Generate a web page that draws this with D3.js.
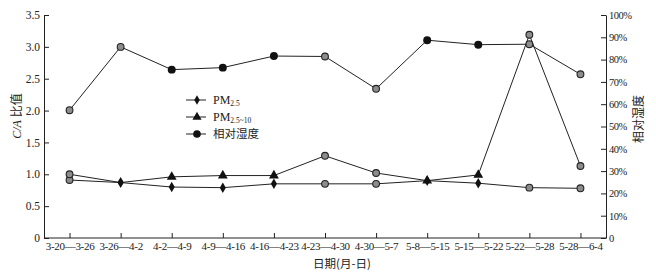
<!DOCTYPE html>
<html>
<head>
<meta charset="utf-8">
<script src="https://cdn.jsdelivr.net/npm/d3@7"></script>
<style>
  body { margin: 0; background: #fff; }
  svg text { font-family: "Liberation Serif", "Noto Sans CJK SC", serif; font-size: 12px; fill: #222; }
  .cjk { font-family: "Noto Sans CJK SC", sans-serif; }
</style>
</head>
<body>
<div id="chart"></div>
<script>
// Weekly periods (month-day)
const periods = ["3-20—3-26", "3-26—4-2", "4-2—4-9", "4-9—4-16", "4-16—4-23", "4-23—4-30",
                 "4-30—5-7", "5-8—5-15", "5-15—5-22", "5-22—5-28", "5-28—6-4"];

// C/A ratio values
const pm25 = [0.91, 0.87, 0.80, 0.79, 0.85, 0.85, 0.85, 0.90, 0.86, 0.79, 0.78];
const pm2510 = [1.00, 0.87, 0.96, 0.98, 0.98, 1.29, 1.02, 0.90, 0.99, 3.19, 1.13];

// Relative humidity (%)
const humidity = [57.3, 85.7, 75.5, 76.4, 81.6, 81.4, 66.9, 88.7, 86.7, 86.9, 73.4];

const leftTicks = [0, 0.5, 1.0, 1.5, 2.0, 2.5, 3.0, 3.5];
const rightTicks = [0, 10, 20, 30, 40, 50, 60, 70, 80, 90, 100];

// points that show up as grey circles in the scan
const greyPm = [0, 5, 6, 9, 10];
const greyHum = [0, 1, 5, 6, 9, 10];

function drawChart() {
    const W = 656, H = 277;
    const margin = { top: 15, right: 50, bottom: 39, left: 44 };

    const svg = d3.select("#chart").append("svg")
        .attr("width", W)
        .attr("height", H);

    const x = d3.scalePoint()
        .domain(periods)
        .range([margin.left, W - margin.right])
        .padding(0.5);

    const yL = d3.scaleLinear().domain([0, 3.5]).range([H - margin.bottom, margin.top]);
    const yR = d3.scaleLinear().domain([0, 100]).range([H - margin.bottom, margin.top]);

    // Axes
    const xAxis = svg.append("g")
        .attr("transform", `translate(0,${H - margin.bottom})`)
        .call(d3.axisBottom(x).tickSizeInner(-5).tickSizeOuter(0).tickPadding(4));

    const leftAxis = svg.append("g")
        .attr("transform", `translate(${margin.left},0)`)
        .call(d3.axisLeft(yL).tickValues(leftTicks)
            .tickFormat(d => d === 0 ? "0" : d3.format(".1f")(d))
            .tickSizeInner(-5).tickSizeOuter(0).tickPadding(4));

    const rightAxis = svg.append("g")
        .attr("transform", `translate(${W - margin.right},0)`)
        .call(d3.axisRight(yR).tickValues(rightTicks)
            .tickFormat(d => d === 0 ? "0" : d + "%")
            .tickSizeInner(-5).tickSizeOuter(0).tickPadding(3));

    [xAxis, leftAxis, rightAxis].forEach(g => {
        g.selectAll("path, line").attr("stroke", "#222");
        g.selectAll("text").attr("fill", "#222")
            .style("font-family", "'Liberation Serif', serif");
    });
    xAxis.selectAll("text").style("font-size", "11px").style("letter-spacing", "-0.3px");
    leftAxis.selectAll("text").style("font-size", "11.5px");
    rightAxis.selectAll("text").style("font-size", "10.5px").style("letter-spacing", "-0.5px");
    xAxis.select(".domain").attr("d", `M${margin.left},0H${W - margin.right}`);

    // Axis titles
    svg.append("text")
        .attr("x", 342)
        .attr("y", H - 9)
        .attr("text-anchor", "middle")
        .attr("class", "cjk")
        .style("font-size", "11.5px")
        .text("日期(月-日)");

    const yl = svg.append("text")
        .attr("transform", `translate(21,116) rotate(-90)`)
        .attr("text-anchor", "middle");
    yl.append("tspan").style("font-style", "italic").text("C/A ");
    yl.append("tspan").attr("class", "cjk").text("比值");

    svg.append("text")
        .attr("transform", `translate(643,119) rotate(-90)`)
        .attr("text-anchor", "middle")
        .attr("class", "cjk")
        .text("相对湿度");

    // Lines
    const lineL = d3.line().x((d, i) => x(periods[i])).y(d => yL(d));
    const lineR = d3.line().x((d, i) => x(periods[i])).y(d => yR(d));

    [pm2510, pm25].forEach(s => {
        svg.append("path").datum(s)
            .attr("d", lineL)
            .attr("fill", "none")
            .attr("stroke", "#222")
            .attr("stroke-width", 1);
    });
    svg.append("path").datum(humidity)
        .attr("d", lineR)
        .attr("fill", "none")
        .attr("stroke", "#222")
        .attr("stroke-width", 1);

    // Markers
    function greyDot(cx, cy) {
        svg.append("circle")
            .attr("cx", cx).attr("cy", cy).attr("r", 3.4)
            .attr("fill", "#8c8c8c")
            .attr("stroke", "#222")
            .attr("stroke-width", 1.1);
    }
    function sym(type, size, cx, cy) {
        svg.append("path")
            .attr("d", d3.symbol().type(type).size(size)())
            .attr("transform", `translate(${cx},${cy})`)
            .attr("fill", "#111");
    }

    pm25.forEach((v, i) => {
        if (greyPm.includes(i)) greyDot(x(periods[i]), yL(v));
        else sym(d3.symbolDiamond, 32, x(periods[i]), yL(v));
    });
    pm2510.forEach((v, i) => {
        if (greyPm.includes(i)) greyDot(x(periods[i]), yL(v));
        else if (i === 1) sym(d3.symbolDiamond, 32, x(periods[i]), yL(v));
        else sym(d3.symbolTriangle, 42, x(periods[i]), yL(v));
    });
    humidity.forEach((v, i) => {
        if (greyHum.includes(i)) greyDot(x(periods[i]), yR(v));
        else sym(d3.symbolCircle, 50, x(periods[i]), yR(v));
    });

    // Legend
    const legendItems = [
        { sub: "2.5", type: d3.symbolDiamond, size: 26 },
        { sub: "2.5~10", type: d3.symbolTriangle, size: 36 },
        { label: "相对湿度", type: d3.symbolCircle, size: 46 }
    ];
    const legend = svg.append("g").attr("transform", "translate(186,100)");
    legendItems.forEach((item, i) => {
        const row = legend.append("g").attr("transform", `translate(0,${i * 17})`);
        row.append("line")
            .attr("x1", 0).attr("x2", 20)
            .attr("stroke", "#222").attr("stroke-width", 1);
        row.append("path")
            .attr("d", d3.symbol().type(item.type).size(item.size)())
            .attr("transform", "translate(11,0)")
            .attr("fill", "#111");
        const t = row.append("text").attr("x", 27).attr("y", 4);
        if (item.label) {
            t.attr("class", "cjk").style("font-size", "11.5px").text(item.label);
        } else {
            t.append("tspan").text("PM");
            t.append("tspan").attr("dy", 2).style("font-size", "7.5px").text(item.sub);
        }
    });
}

drawChart();
</script>
</body>
</html>
